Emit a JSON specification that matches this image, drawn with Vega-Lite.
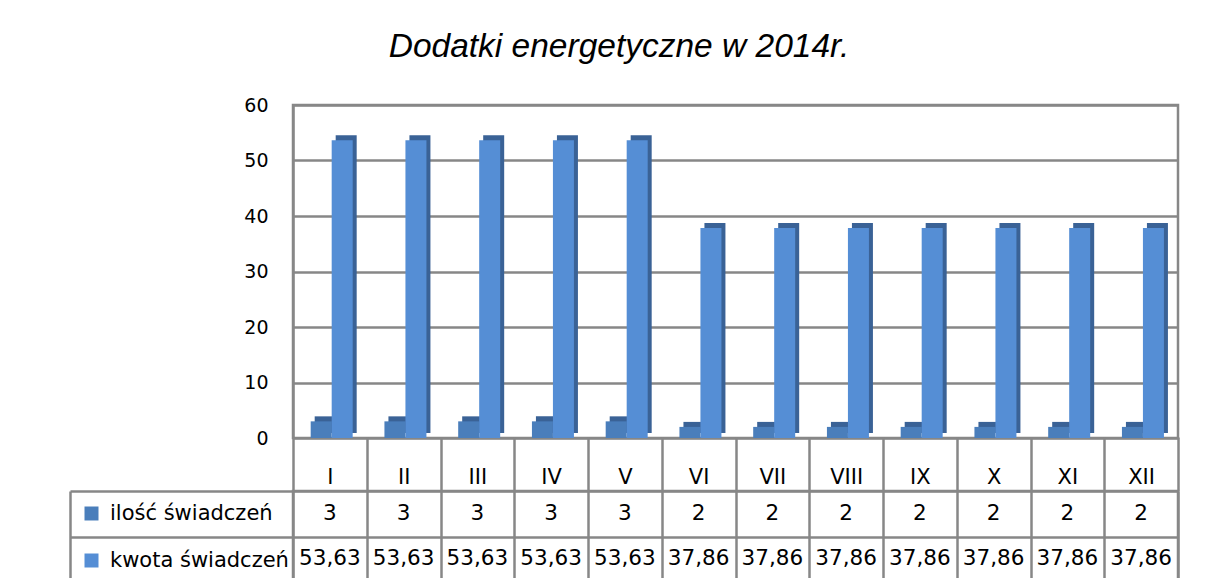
{
  "$schema": "https://vega.github.io/schema/vega-lite/v6.json",
  "padding": {"left": 67, "top": 30, "right": 10, "bottom": 0},
  "background": "white",
  "title": {"text": "Dodatki energetyczne w 2014r.", "font": "Liberation Sans", "fontSize": 33.5, "fontStyle": "italic", "fontWeight": "normal", "color": "#000000", "anchor": "middle", "offset": 30, "dx": -5},
  "config": {
    "view": {"stroke": "#878787", "strokeWidth": 2.5},
    "locale": {"number": {"decimal": ",", "thousands": " ", "grouping": [3], "currency": ["", " zł"]}}
  },
  "data": {"values": [
    {"miesiac": "I", "seria": "ilość świadczeń", "wartosc": 3},
    {"miesiac": "II", "seria": "ilość świadczeń", "wartosc": 3},
    {"miesiac": "III", "seria": "ilość świadczeń", "wartosc": 3},
    {"miesiac": "IV", "seria": "ilość świadczeń", "wartosc": 3},
    {"miesiac": "V", "seria": "ilość świadczeń", "wartosc": 3},
    {"miesiac": "VI", "seria": "ilość świadczeń", "wartosc": 2},
    {"miesiac": "VII", "seria": "ilość świadczeń", "wartosc": 2},
    {"miesiac": "VIII", "seria": "ilość świadczeń", "wartosc": 2},
    {"miesiac": "IX", "seria": "ilość świadczeń", "wartosc": 2},
    {"miesiac": "X", "seria": "ilość świadczeń", "wartosc": 2},
    {"miesiac": "XI", "seria": "ilość świadczeń", "wartosc": 2},
    {"miesiac": "XII", "seria": "ilość świadczeń", "wartosc": 2},
    {"miesiac": "I", "seria": "kwota świadczeń", "wartosc": 53.63},
    {"miesiac": "II", "seria": "kwota świadczeń", "wartosc": 53.63},
    {"miesiac": "III", "seria": "kwota świadczeń", "wartosc": 53.63},
    {"miesiac": "IV", "seria": "kwota świadczeń", "wartosc": 53.63},
    {"miesiac": "V", "seria": "kwota świadczeń", "wartosc": 53.63},
    {"miesiac": "VI", "seria": "kwota świadczeń", "wartosc": 37.86},
    {"miesiac": "VII", "seria": "kwota świadczeń", "wartosc": 37.86},
    {"miesiac": "VIII", "seria": "kwota świadczeń", "wartosc": 37.86},
    {"miesiac": "IX", "seria": "kwota świadczeń", "wartosc": 37.86},
    {"miesiac": "X", "seria": "kwota świadczeń", "wartosc": 37.86},
    {"miesiac": "XI", "seria": "kwota świadczeń", "wartosc": 37.86},
    {"miesiac": "XII", "seria": "kwota świadczeń", "wartosc": 37.86}
  ]},
  "spacing": -16,
  "vconcat": [
    {
      "width": 885,
      "height": 333,
      "encoding": {
        "x": {
          "field": "miesiac", "type": "nominal",
          "sort": ["I", "II", "III", "IV", "V", "VI", "VII", "VIII", "IX", "X", "XI", "XII"],
          "scale": {"paddingInner": 0, "paddingOuter": 0},
          "axis": null
        },
        "y": {
          "field": "wartosc", "type": "quantitative",
          "scale": {"domain": [0, 60], "nice": false},
          "axis": {
            "title": null, "values": [0, 10, 20, 30, 40, 50, 60],
            "domain": true, "domainColor": "#878787", "domainWidth": 2.5,
            "ticks": false, "labelPadding": 25,
            "labelFont": "DejaVu Sans", "labelFontSize": 19, "labelColor": "#000000",
            "grid": true, "gridColor": "#878787", "gridWidth": 2.5
          }
        }
      },
      "layer": [
        {
          "mark": {"type": "bar", "color": "#3A6296", "yOffset": -5},
          "encoding": {
            "xOffset": {
              "field": "seria", "type": "nominal",
              "sort": ["ilość świadczeń", "kwota świadczeń"],
              "scale": {"paddingInner": 0, "paddingOuter": 0.756, "align": 0.683}
            }
          }
        },
        {
          "mark": {"type": "bar"},
          "encoding": {
            "xOffset": {
              "field": "seria", "type": "nominal",
              "sort": ["ilość świadczeń", "kwota świadczeń"],
              "scale": {"paddingInner": 0, "paddingOuter": 0.756, "align": 0.557}
            },
            "color": {
              "field": "seria", "type": "nominal",
              "scale": {"domain": ["ilość świadczeń", "kwota świadczeń"], "range": ["#4A7EBB", "#558ED5"]},
              "legend": {
                "orient": "none", "legendX": -212, "legendY": 398, "title": null,
                "symbolType": "square", "symbolSize": 196, "symbolStrokeWidth": 0,
                "labelFont": "DejaVu Sans", "labelFontSize": 21, "labelColor": "#000000",
                "labelOffset": 8, "rowPadding": 25, "padding": 0, "labelLimit": 300
              }
            }
          }
        }
      ],
      "resolve": {"scale": {"xOffset": "independent"}}
    },
    {
      "width": 885,
      "height": 91,
      "mark": {"type": "text", "font": "DejaVu Sans", "fontSize": 21.5, "color": "#000000"},
      "encoding": {
        "x": {
          "field": "miesiac", "type": "nominal",
          "sort": ["I", "II", "III", "IV", "V", "VI", "VII", "VIII", "IX", "X", "XI", "XII"],
          "scale": {"paddingInner": 0, "paddingOuter": 0},
          "axis": {
            "title": null, "orient": "top", "domain": false,
            "ticks": true, "tickSize": 54, "tickBand": "extent", "tickColor": "#878787", "tickWidth": 2.5,
            "labelAngle": 0, "labelFont": "DejaVu Sans", "labelFontSize": 21, "labelColor": "#000000", "labelPadding": -50,
            "grid": true, "gridColor": "#878787", "gridWidth": 2.5
          }
        },
        "y": {
          "field": "seria", "type": "nominal",
          "sort": ["ilość świadczeń", "kwota świadczeń"],
          "scale": {"paddingInner": 0, "paddingOuter": 0},
          "axis": {
            "title": null, "orient": "left", "offset": 223, "labels": false,
            "domain": true, "domainColor": "#878787", "domainWidth": 2.5,
            "ticks": true, "tickSize": -223, "tickBand": "extent", "tickColor": "#878787", "tickWidth": 2.5,
            "grid": true, "gridColor": "#878787", "gridWidth": 2.5
          }
        },
        "text": {"field": "wartosc", "type": "quantitative", "format": "~g"}
      }
    }
  ]
}
